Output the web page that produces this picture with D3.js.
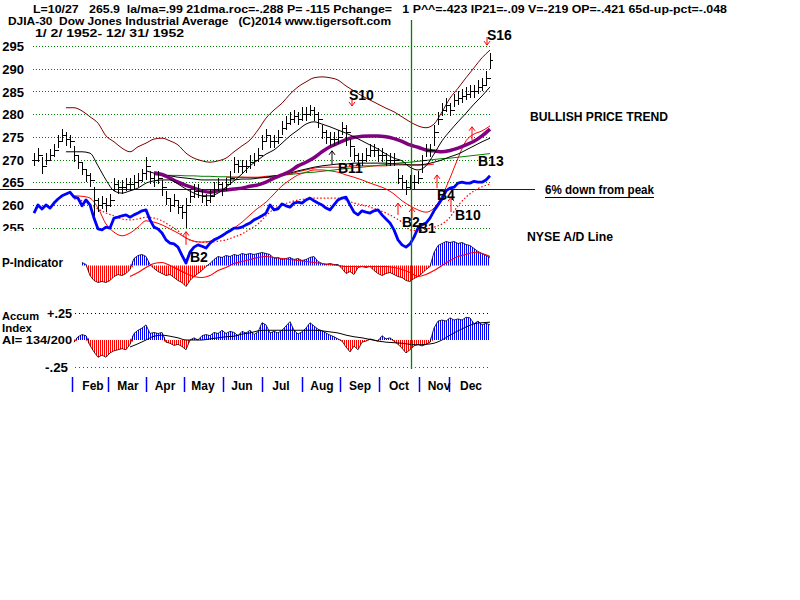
<!DOCTYPE html>
<html>
<head>
<meta charset="utf-8">
<script src="https://cdn.jsdelivr.net/npm/d3@7/dist/d3.min.js"></script>
<style>
html,body{margin:0;padding:0;background:#fff;}
svg{display:block;background:#fff;}
text{font-family:"Liberation Sans",Arial,Helvetica,sans-serif;font-weight:bold;fill:#000;white-space:pre;}
</style>
</head>
<body>
<svg id="chart" width="800" height="600"></svg>
<script>
// ---------------- DATA ----------------
// Daily-ish price bars (bar index 0 = 1/2/1952 ... last = 12/31/1952)
const closes = [270,271,268.5,270,271,272,274,275.5,274.5,274,
271,269.5,268,266.5,265.5,261,260,260.5,260,261,
264.5,264,264,264.5,264.5,265,265.5,267,268.5,266,
265.5,266,264,261.5,260,261,259.5,258.5,260,262,
263,263,262,261,262,263.5,264.5,263.5,264.5,266,
269,268.5,268.5,268.5,269.5,270,271,274,275.5,274,
274,275,277,278,279,279.5,279,280,280,281,
280,279,276,275,274.5,274.5,275,277,276,273,
271,270,270,271,272,272,271,271,270,270,
270,266,265,264,265,265,266,270,272,272,
276,279,281,282,281,283,283.5,284,284.5,285,
285,286,286.5,288,292];
const highs = [271.5,272.5,270.5,271.5,272.3,273.5,275.5,276.8,276,275.5,
273,271,269.5,268,267,264,261.5,262,261.5,262.5,
266,265.5,265.5,266,266,266.5,267,268,270.5,267.5,
267,267.5,265.5,263,261.5,262.5,261,260,261.5,263.5,
264.5,264.5,263.5,262.5,263.5,265,266,265,266,267.5,
270.5,270,270,270,271,271.5,272.5,275.5,276.8,275.5,
275.5,276.5,278.5,279.5,280.5,281,280.5,281.5,281.5,282,
281.5,280.5,277.5,276.5,276,276,276.5,278.2,277.5,274.5,
272.5,271.5,271.5,272.5,273.5,273.5,272.5,272.5,271.5,271.5,
271.5,268,266.5,265.5,266.5,266.5,267.5,271,273.5,273.5,
277.5,280.5,282.5,283.5,282.5,284.5,285,285.5,286,286.5,
286.5,287.5,288,289.5,293.5];
const lows = [268.5,269.5,266.8,268.8,269.6,270.5,272.5,274,273,272.5,
269.5,268,266.5,265,264,257.5,258.5,259,258.5,259.5,
263,262.5,262.5,263,263,263.5,264,265,265.5,264.5,
264,264.5,262,260,258.5,259.5,258,257,255,260.5,
261.5,261.5,260.5,259.8,260.5,262,263,262,263,264.5,
267,267,267,267,268,268.5,269.5,272,274,272.5,
272.5,273.5,275.5,276.5,277.5,278,277.5,278.5,278.5,279.5,
278.5,277,274.5,273.5,273,273,273.5,275.5,273,270.5,
269.5,268.5,268.5,269.5,270.5,270.5,269.5,269.5,268.5,268.5,
268.5,264.5,263.5,262.2,263.5,263.5,264.5,267,270.5,270.5,
273,277.5,279.5,280.5,279.5,281.5,282,282.5,283,283.5,
283.5,284.5,285,286.5,290];

// NYSE A/D line, plotted on the price axis (one value per bar)
const adLine = [258.2,260.0,259.1,260.0,259.3,260.4,261.3,262.0,262.4,262.8,
261.7,261.5,259.8,261.1,260.0,257.1,254.7,254.5,255.1,254.9,
257.1,257.3,257.6,257.8,257.3,257.8,258.2,258.7,258.9,256.7,
255.1,254.7,253.8,252.3,251.6,251.4,250.7,248.9,247.2,249.6,
250.7,251.2,250.9,250.5,251.6,252.3,252.7,253.2,253.8,254.3,
254.9,254.9,255.1,255.6,256.0,256.7,257.1,257.6,258.2,260.0,
258.9,259.1,260.2,259.8,259.5,260.4,260.6,260.4,261.1,261.5,
260.9,260.4,260.0,259.3,258.9,260.0,261.1,261.5,261.7,260.0,
258.4,257.8,258.7,258.4,258.2,258.7,258.9,257.8,256.9,256.0,
254.5,252.3,251.2,250.7,251.4,252.9,254.9,255.6,256.0,257.1,
258.7,260.0,261.3,263.1,263.7,263.9,264.8,265.0,264.8,264.8,
265.2,265.0,265.0,265.5,266.4];

// Smoothed lines: one value every LINE_STEP bars, starting at the given bar
const LINE_STEP = 2;
const ma21Start = 8;
const ma21 = [271.7,271.7,271.7,271.4,268.6,265.5,263.1,262.6,263.1,263.7,
264.8,265.3,265.5,265.5,264.6,263.5,262.6,262.0,262.0,262.6,
263.9,265.3,266.8,268.6,269.9,271.2,272.1,273.6,275.2,276.5,
277.8,278.3,277.8,277.2,276.5,275.8,275.0,274.1,273.2,272.3,
271.2,270.3,269.7,268.3,267.7,268.6,271.2,274.1,276.3,278.3,
280.2,282.2,284.0,286.0];
const ma50Start = 28;
const ma50 = [267.5,267.0,266.6,266.4,266.1,265.9,265.7,265.5,265.5,265.5,
265.5,265.5,265.7,265.7,265.9,266.1,266.4,266.6,267.0,267.5,
267.9,268.3,268.6,268.8,269.0,269.0,269.2,269.2,269.2,269.2,
269.2,269.0,269.0,268.8,268.8,269.0,269.4,269.9,270.6,271.2,
272.1,273.0,273.9,274.7];
const ma200Start = 30;
const ma200 = [266.6,266.6,266.5,266.5,266.4,266.4,266.3,266.3,266.2,266.2,
266.1,266.1,266.0,266.0,266.0,266.2,266.5,266.7,266.9,267.1,
267.2,267.4,267.6,267.8,268.0,268.2,268.3,268.5,268.7,268.9,
269.1,269.3,269.4,269.6,269.8,270.0,270.2,270.3,270.5,270.7,
270.9,271.1,271.3];
const ma65Start = 30;
const ma65 = [267.1,266.7,265.9,265.0,264.3,263.7,263.1,262.8,263.1,263.3,
263.5,263.7,264.1,264.4,265.0,265.9,266.6,267.4,268.6,269.4,
270.4,271.7,272.8,273.6,274.4,274.9,275.1,275.2,275.2,275.0,
274.6,274.0,273.2,272.7,272.1,271.9,271.7,272.0,272.5,273.2,
274.0,275.2,276.7];
const upperStart = 8;
const upperBand = [281.4,281.4,280.7,279.4,278.0,275.2,273.9,272.5,271.7,272.8,
273.6,274.5,274.7,274.1,273.2,271.4,270.3,269.7,269.4,269.7,
270.3,271.7,273.0,274.3,276.5,279.1,280.9,282.4,284.4,286.0,
287.1,288.0,288.2,288.0,287.5,286.2,285.1,284.0,283.1,282.2,
281.3,280.5,279.4,278.3,277.4,277.0,277.8,280.5,283.5,285.7,
288.0,290.2,292.4,294.1];
const lowerStart = 10;
const lowerBand = [262.0,261.9,261.5,259.3,255.8,254.0,253.2,253.8,255.1,256.5,
256.2,255.6,254.7,253.8,252.7,252.0,251.8,252.0,252.7,253.8,
254.9,256.2,257.8,259.3,260.6,262.4,264.2,265.5,266.6,267.2,
267.7,267.7,267.5,267.2,266.6,266.1,265.5,264.8,264.2,263.5,
262.4,260.9,259.8,258.9,258.4,259.3,262.0,265.9,270.3,274.1,
275.6,276.3,277.4];
const redMaStart = 48;
const redMa = [266.1,266.1,266.1,266.1,266.1,266.3,266.4,266.6,266.8,267.3,
267.7,268.1,268.3,268.3,268.3,268.3,268.6,268.6,268.6,268.6,
268.6,268.8,268.8,268.8,268.8,268.8,269.0];
const adMaStart = 10;
const adMa = [261.3,260.9,260.0,259.1,258.2,257.6,256.9,256.7,256.9,257.3,
257.1,256.5,255.4,254.3,252.7,252.0,251.8,251.8,252.0,252.3,
252.9,253.6,254.7,255.8,257.6,259.1,260.0,260.6,261.1,261.3,
261.5,261.5,261.5,261.5,261.1,260.4,260.0,259.5,258.9,258.2,
257.3,256.2,254.5,254.3,254.7,255.1,255.8,257.3,259.8,261.7,
263.1,264.0,264.6];

// P-Indicator (one value per bar from pStart) and its moving average
const pStart = 12;
const pIndicator = [30,10,-100,-150,-170,-160,-170,-150,
-110,-90,-100,-80,-40,70,100,110,90,10,
-30,-60,-80,-100,-90,-120,-150,-170,-210,-150,
-110,-80,-50,-10,20,60,90,80,100,90,
110,100,120,110,120,110,120,130,120,110,
70,80,60,70,80,60,70,50,60,80,
90,40,20,10,20,10,10,-30,-80,-60,
-90,-20,-10,-20,-10,-50,-80,-100,-80,-70,
-90,-110,-120,-150,-160,-130,-110,-80,-40,-10,
130,200,220,240,230,240,220,230,210,200,
170,140,120,100,80];
const pMaStart = 24;
const pMa = [-110,-70,-20,20,30,0,-40,-80,-110,-120,
-100,-50,-20,20,40,60,80,90,80,70,
60,50,40,30,20,10,0,-10,-10,-10,
-10,-10,-10,-20,-40,-70,-110,-90,-50,0,
50,90,110,130,120,90];

// Accumulation Index (one value per bar from aiStart) and its moving average
const aiStart = 10;
const accumIndex = [-0.02,0.03,0.05,0.04,-0.05,-0.11,-0.16,-0.14,-0.16,-0.12,
-0.10,-0.09,-0.08,-0.09,-0.04,0.06,0.09,0.11,0.14,0.06,
0.07,0.06,0.07,-0.02,-0.03,-0.05,-0.04,-0.06,-0.09,0,
0.02,0,0.04,0.05,0.04,0.07,0.06,0.09,0.06,0.08,
0.07,0.04,0.08,0.065,0.09,0.05,0.075,0.16,0.14,0.065,
0.08,0.065,0.09,0.13,0.17,0.09,0.055,0.075,0.11,0.16,
0.13,0.10,0.085,0.065,0.045,0.03,0.01,-0.01,-0.065,-0.11,
-0.055,-0.09,-0.02,-0.01,0.01,0,-0.01,0.04,0.01,0.02,
-0.01,-0.04,-0.075,-0.12,-0.09,-0.055,-0.04,-0.055,-0.04,-0.02,
0.11,0.175,0.185,0.175,0.205,0.185,0.195,0.185,0.21,0.205,
0.15,0.175,0.14,0.155,0.14];
const aiMaStart = 24;
const aiMa = [-0.065,-0.035,0,0.035,0.045,0.035,0.02,0,0,0,
0.01,0.02,0.03,0.035,0.055,0.065,0.085,0.09,0.09,0.09,
0.09,0.09,0.09,0.09,0.085,0.075,0.065,0.045,0.03,0.02,
0.005,-0.01,-0.02,-0.025,-0.03,-0.04,-0.045,-0.04,-0.03,0,
0.045,0.085,0.12,0.15,0.16,0.165];

// Axes / reference levels
const priceTicks = [255,260,265,270,275,280,285,290,295];
const monthTickIdx = [9.5,18.5,28,37.5,47.25,57,67,76.5,86.25,96.25,103.75];
const monthLabels = ["Feb","Mar","Apr","May","Jun","Jul","Aug","Sep","Oct","Nov","Dec"];
const monthLabelIdx = [14.75,23.5,32.75,42.25,52,61.75,72,81.5,91.25,101.25,109.25];
const peakDownLevel = 263.5;   // 6% down from peak
const markerIdx = 94.25;       // L=10/27

// Signals: label, bar index, price level of label centre
const sigLabels = ["S16","S10","B11","B13","B4","B10","B2","B1","B2"];
const sigIdx    = [113.25,78.75,76,111,100.75,105.25,92,96,39];
const sigPrice  = [297.4,284.2,268.1,269.7,262.2,257.8,256.2,254.9,248.5];
// Arrows: bar index, tail price, head price, colour
const arrIdx   = [113.25,79.5,74.5,100.75,104.25,91,94.5,38,109.5];
const arrFrom  = [297.0,283.5,269.0,263.7,258.4,257.8,257.1,251.2,274.3];
const arrTo    = [295.2,281.8,271.9,266.6,261.7,260.4,259.3,254.1,277.2];
const arrColor = ["#ff0000","#ff0000","#000000","#ff0000","#ff0000","#ff0000","#ff0000","#ff0000","#ff0000"];

// ---------------- DRAWING ----------------
const svg = d3.select("#chart");
const defs = svg.append("defs");
function stripes(id, color) {
  const p = defs.append("pattern").attr("id", id).attr("patternUnits", "userSpaceOnUse")
    .attr("width", 2).attr("height", 8);
  p.append("rect").attr("x", 0).attr("y", 0).attr("width", 1).attr("height", 8).attr("fill", color);
}
stripes("blueStripes", "#0000ff");
stripes("redStripes", "#ff0000");

const x = d3.scaleLinear().domain([0, closes.length - 1]).range([34, 490]);
const y = d3.scaleLinear().domain([255, 295]).range([227.6, 46]);
const yP = d3.scaleLinear().domain([-200, 200]).range([285.5, 245.5]);
const yAI = d3.scaleLinear().domain([-0.25, 0.25]).range([367, 313]);

function stepSeries(arr, start) { return arr.map((v, j) => ({ i: start + LINE_STEP * j, v })); }
function barSeries(arr, start) { return arr.map((v, j) => ({ i: start + j, v })); }

function addText(txt, px, py, size, opts = {}) {
  const t = svg.append("text").attr("x", px).attr("y", py).attr("dy", "0.36em")
    .attr("font-size", size).text(txt);
  if (opts.len) t.attr("textLength", opts.len).attr("lengthAdjust", "spacingAndGlyphs");
  if (opts.anchor) t.attr("text-anchor", opts.anchor);
  if (opts.fill) t.style("fill", opts.fill);
  return t;
}

// Grid lines
const grid = svg.append("g");
priceTicks.forEach(t => {
  const yy = Math.round(y(t)) + 0.5;
  grid.append("line").attr("x1", 33).attr("x2", 490).attr("y1", yy).attr("y2", yy)
    .attr("stroke", "#008000").attr("stroke-dasharray", "1,2");
});

// Y axis labels
const yAxis = d3.axisLeft(y).tickValues(priceTicks).tickSize(0).tickPadding(0).tickFormat(d3.format("d"));
const gy = svg.append("g").attr("transform", "translate(24,0)").call(yAxis);
gy.select(".domain").remove();
gy.selectAll("text").attr("font-size", 13).attr("dy", "0.36em");
// bottom half of "255" hidden as in the original
svg.append("rect").attr("x", 0).attr("y", 231).attr("width", 31).attr("height", 12).attr("fill", "#fff");

// 6% down from peak line
svg.append("line").attr("x1", 0).attr("x2", 535).attr("y1", Math.round(y(peakDownLevel)) + 0.5)
  .attr("y2", Math.round(y(peakDownLevel)) + 0.5).attr("stroke", "#0000ff").attr("stroke-width", 1);

const smooth = d3.line().x(d => x(d.i)).y(d => y(d.v)).curve(d3.curveMonotoneX);
function drawLine(data, color, width, dash) {
  const p = svg.append("path").attr("d", smooth(data)).attr("fill", "none")
    .attr("stroke", color).attr("stroke-width", width);
  if (dash) p.attr("stroke-dasharray", dash);
}
drawLine(stepSeries(upperBand, upperStart), "#800000", 1);
drawLine(stepSeries(lowerBand, lowerStart), "#ff0000", 1);
drawLine(stepSeries(ma200, ma200Start), "#008000", 1);
drawLine(stepSeries(redMa, redMaStart), "#ff0000", 1);
drawLine(stepSeries(ma50, ma50Start), "#000000", 1);
drawLine(stepSeries(ma65, ma65Start), "#800080", 3.5);
drawLine(stepSeries(ma21, ma21Start), "#000000", 1);
drawLine(stepSeries(adMa, adMaStart), "#ff0000", 1.2, "1.5,2");

// Price bars
const bars = svg.append("g").attr("stroke", "#000").attr("stroke-width", 1).attr("shape-rendering", "crispEdges");
closes.forEach((c, i) => {
  const xx = Math.round(x(i)) + 0.5;
  const open = i > 0 ? closes[i - 1] : c;
  bars.append("line").attr("x1", xx).attr("x2", xx).attr("y1", y(highs[i])).attr("y2", y(lows[i]));
  bars.append("line").attr("x1", xx).attr("x2", xx + 2.5).attr("y1", Math.round(y(c)) + 0.5).attr("y2", Math.round(y(c)) + 0.5);
  bars.append("line").attr("x1", xx - 2.5).attr("x2", xx).attr("y1", Math.round(y(open)) + 0.5).attr("y2", Math.round(y(open)) + 0.5);
});

// A/D line
svg.append("path").attr("d", d3.line().x(d => x(d.i)).y(d => y(d.v))(barSeries(adLine, 0)))
  .attr("fill", "none").attr("stroke", "#0000ff").attr("stroke-width", 2.8).attr("stroke-linejoin", "round");

// Histogram panels
function histogram(values, start, scale) {
  const pts = barSeries(values, start);
  const z = scale(0);
  const pos = d3.area().x(d => x(d.i)).y0(z).y1(d => scale(Math.max(0, d.v)));
  const neg = d3.area().x(d => x(d.i)).y0(z).y1(d => scale(Math.min(0, d.v)));
  svg.append("path").attr("d", pos(pts)).attr("fill", "url(#blueStripes)");
  svg.append("path").attr("d", neg(pts)).attr("fill", "url(#redStripes)");
  svg.append("path").attr("d", d3.line().x(d => x(d.i)).y(d => scale(d.v))(pts))
    .attr("fill", "none").attr("stroke", "#000").attr("stroke-width", 0.8);
}
histogram(pIndicator, pStart, yP);
svg.append("path").attr("d", d3.line().x(d => x(d.i)).y(d => yP(d.v)).curve(d3.curveMonotoneX)(stepSeries(pMa, pMaStart)))
  .attr("fill", "none").attr("stroke", "#ff0000").attr("stroke-width", 1.2);

// AI reference lines
[[0.25, "#000000"], [-0.25, "#a0204a"]].forEach(([v, col]) => {
  const yy = Math.round(yAI(v)) + 0.5;
  svg.append("line").attr("x1", 75).attr("x2", 490).attr("y1", yy).attr("y2", yy)
    .attr("stroke", col).attr("stroke-dasharray", "1,3");
});
histogram(accumIndex, aiStart, yAI);
svg.append("path").attr("d", d3.line().x(d => x(d.i)).y(d => yAI(d.v)).curve(d3.curveMonotoneX)(stepSeries(aiMa, aiMaStart)))
  .attr("fill", "none").attr("stroke", "#000").attr("stroke-width", 1);

// Month axis
const mAxis = d3.axisBottom(x).tickValues(monthTickIdx).tickSize(15).tickFormat("");
const gm = svg.append("g").attr("transform", "translate(0,377)").call(mAxis);
gm.select(".domain").remove();
gm.selectAll("line").attr("stroke", "#0000ff").attr("stroke-width", 1.5);
monthLabels.forEach((m, k) => addText(m, x(monthLabelIdx[k]), 386, 12, { anchor: "middle" }));

// Signal arrows
arrIdx.forEach((ai, k) => {
  const xx = x(ai), y0 = y(arrFrom[k]), y1 = y(arrTo[k]);
  const dir = y1 < y0 ? 1 : -1;
  svg.append("path")
    .attr("d", `M${xx},${y0}L${xx},${y1}M${xx - 3},${y1 + dir * 4}L${xx},${y1}L${xx + 3},${y1 + dir * 4}`)
    .attr("fill", "none").attr("stroke", arrColor[k]).attr("stroke-width", 1);
});
// Signal labels
sigLabels.forEach((s, k) => addText(s, x(sigIdx[k]), y(sigPrice[k]), 14));

// Vertical marker line
svg.append("line").attr("x1", Math.round(x(markerIdx)) + 0.5).attr("x2", Math.round(x(markerIdx)) + 0.5)
  .attr("y1", 20).attr("y2", 369).attr("stroke", "#008000").attr("stroke-width", 1.3);

// Header texts
addText("L=10/27   265.9  la/ma=.99 21dma.roc=-.288 P= -115 Pchange=   1 P^^=-423 IP21=-.09 V=-219 OP=-.421 65d-up-pct=-.048", 33, 8.5, 11.5, { len: 694 });
addText("DJIA-30  Dow Jones Industrial Average   (C)2014 www.tigersoft.com", 8, 21, 11, { len: 383 });
addText("1/ 2/ 1952- 12/ 31/ 1952", 35, 33, 11, { len: 149 });

// Panel labels
addText("P-Indicator", 2, 263, 12, { len: 61 });
addText("Accum", 2, 316, 11, { len: 37 });
addText("Index", 2, 328, 11, { len: 30 });
addText("AI= 134/200", 2, 340, 11, { len: 70 });
addText("+.25", 47, 314, 12, { len: 25 });
addText("-.25", 45, 368, 12, { len: 23 });

// Right-side annotations
addText("BULLISH PRICE TREND", 530, 117, 12, { len: 138 });
addText("6% down from peak", 545, 190, 12, { len: 109 });
svg.append("line").attr("x1", 545).attr("x2", 654).attr("y1", 197.5).attr("y2", 197.5).attr("stroke", "#000");
addText("NYSE A/D Line", 527, 237, 12, { len: 86 });
</script>
</body>
</html>
